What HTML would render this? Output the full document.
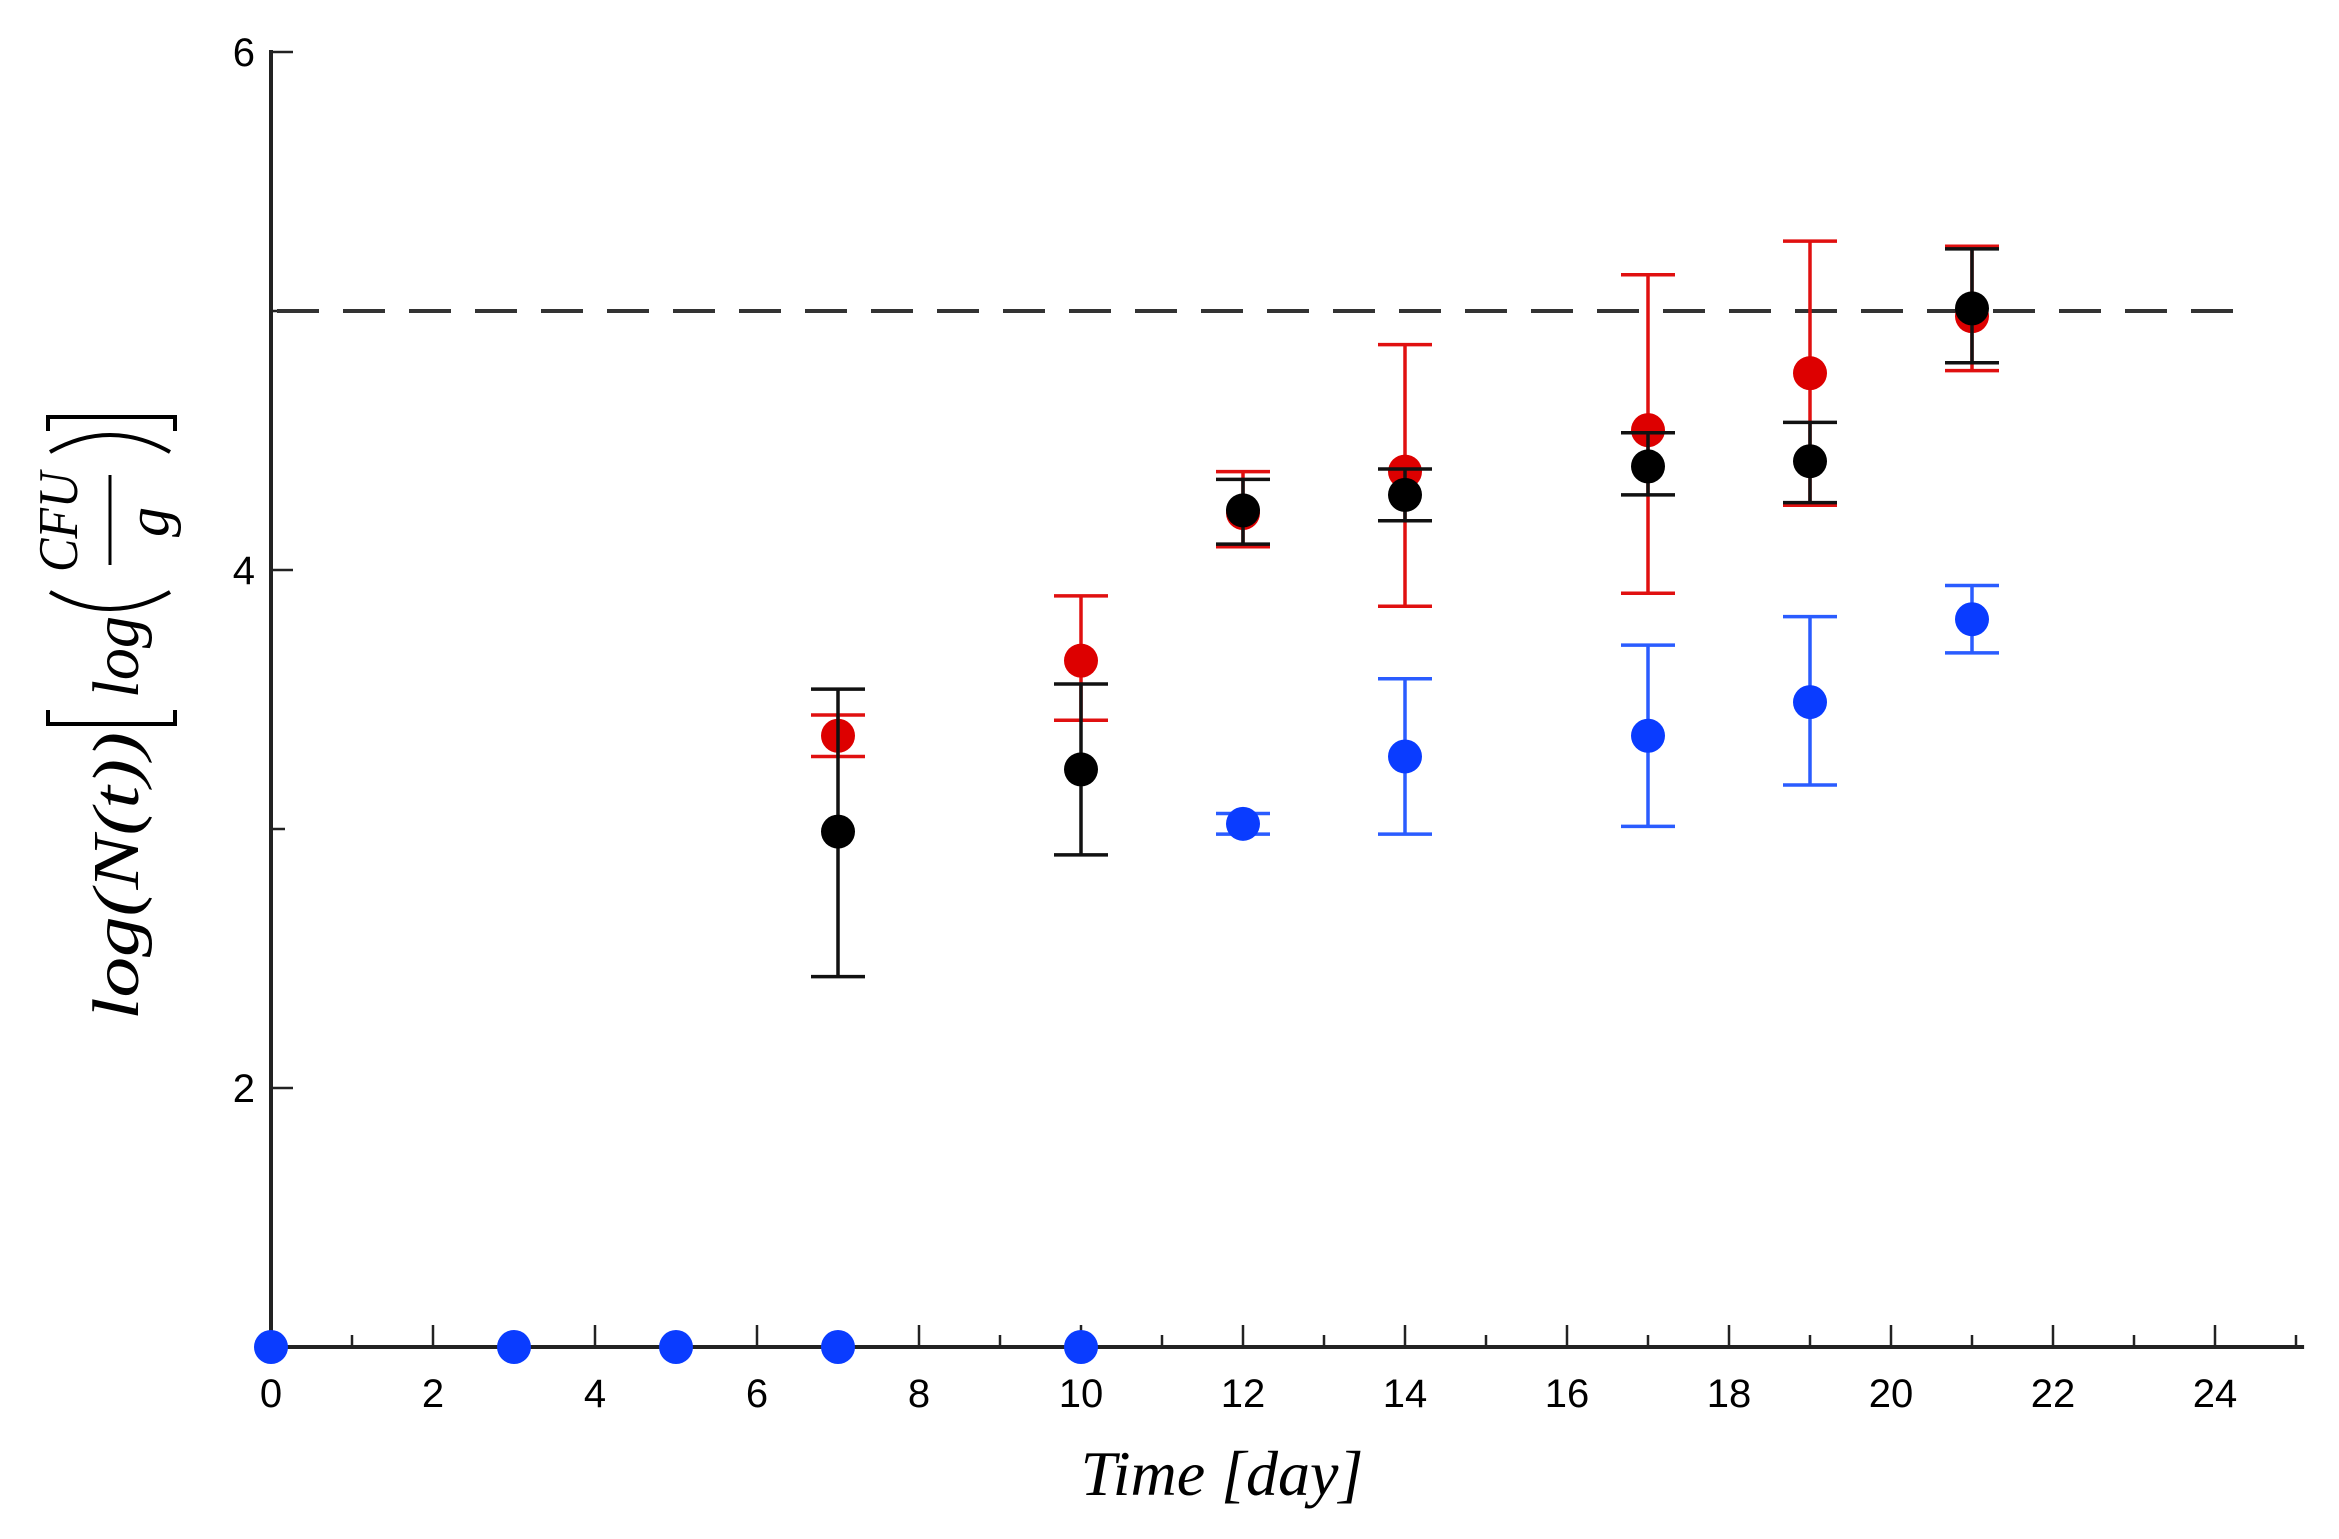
<!DOCTYPE html>
<html><head><meta charset="utf-8"><style>
html,body{margin:0;padding:0;background:#fff;}
svg{display:block;}
</style></head><body>
<svg id="chart" width="2339" height="1539" viewBox="0 0 2339 1539" xmlns="http://www.w3.org/2000/svg">
<g id="axes"></g>
<g id="marks"></g>
<text x="1222" y="1495" font-family="Liberation Serif, serif" font-style="italic" font-size="64" text-anchor="middle">Time [day]</text>
<g transform="translate(130,1020) rotate(-90)" font-family="Liberation Serif, serif" font-style="italic" fill="#000">
<text x="0" y="8" font-size="66" textLength="288" lengthAdjust="spacingAndGlyphs">log(N(t))</text>
<path d="M310,-82 L296,-82 L296,45 L310,45" fill="none" stroke="#000" stroke-width="4"/>
<text x="322" y="8" font-size="66" textLength="82" lengthAdjust="spacingAndGlyphs">log</text>
<path d="M428,-80 Q394,-20 428,40" fill="none" stroke="#000" stroke-width="4"/>
<text x="498" y="-53" font-size="56" text-anchor="middle" textLength="100" lengthAdjust="spacingAndGlyphs">CFU</text>
<line x1="455" y1="-20" x2="545" y2="-20" stroke="#000" stroke-width="3"/>
<text x="498" y="38" font-size="60" text-anchor="middle">g</text>
<path d="M568,-80 Q602,-20 568,40" fill="none" stroke="#000" stroke-width="4"/>
<path d="M589,-82 L603,-82 L603,45 L589,45" fill="none" stroke="#000" stroke-width="4"/>
</g>
</svg>
<script>
const days = [0,3,5,7,10,12,14,17,19,21];
const blueVals = [1,1,1,1,1,3.02,3.28,3.36,3.49,3.81];
const blueHi = [null,null,null,null,null,3.06,3.58,3.71,3.82,3.94];
const blueLo = [null,null,null,null,null,2.98,2.98,3.01,3.17,3.68];
const redDays = [7,10,12,14,17,19,21];
const redVals = [3.36,3.65,4.22,4.38,4.54,4.76,4.98];
const redHi = [3.44,3.9,4.38,4.87,5.14,5.27,5.25];
const redLo = [3.28,3.42,4.09,3.86,3.91,4.25,4.77];
const blackDays = [7,10,12,14,17,19,21];
const blackVals = [2.99,3.23,4.23,4.29,4.40,4.42,5.01];
const blackHi = [3.54,3.56,4.35,4.39,4.53,4.57,5.24];
const blackLo = [2.43,2.90,4.10,4.19,4.29,4.26,4.80];
const xTicks = [0,2,4,6,8,10,12,14,16,18,20,22,24];
const yTicks = [2,4,6];
const thresholdValue = 5;

const NS='http://www.w3.org/2000/svg';
const X = d => 271 + d*81.0;
const Y = v => 1606 - v*259;
function mk(tag, attrs, parent){const e=document.createElementNS(NS,tag);for(const k in attrs)e.setAttribute(k,attrs[k]);parent.appendChild(e);return e;}
const axes=document.getElementById('axes');
const marks=document.getElementById('marks');

let yl=mk('line',{x1:X(0),y1:Y(6)-2,x2:X(0),y2:Y(1),stroke:'#222','stroke-width':4},axes);


let xl=mk('line',{x1:X(0),y1:Y(1),x2:X(25.1),y2:Y(1),stroke:'#222','stroke-width':4},axes);


for(let d=1; d<=25; d++){
  const major = d%2===0;
  const t=mk('line',{x1:X(d),y1:Y(1),x2:X(d),y2:Y(1)-(major?22:12),stroke:'#222','stroke-width':2.5},axes);
  
  
}
xTicks.forEach(d=>{
  const t=mk('text',{x:X(d),y:Y(1)+60,'font-family':'Liberation Sans, sans-serif','font-size':40,'text-anchor':'middle'},axes);
  t.textContent=d;
  
  
});
[2,3,4,5,6].forEach(v=>{
  const major = yTicks.includes(v);
  const t=mk('line',{x1:X(0),y1:Y(v),x2:X(0)+(major?22:14),y2:Y(v),stroke:'#222','stroke-width':2.5},axes);
  
  
});
yTicks.forEach(v=>{
  const t=mk('text',{x:X(0)-16,y:Y(v)+14,'font-family':'Liberation Sans, sans-serif','font-size':40,'text-anchor':'end'},axes);
  t.textContent=v;
  
  
});
let th=mk('line',{x1:X(0)+6,y1:Y(thresholdValue),x2:2235,y2:Y(thresholdValue),stroke:'#333','stroke-width':4,'stroke-dasharray':'42 24'},marks);



function errbar(d,hi,lo,color,name){
  if(hi==null) return;
  const g=mk('g',{stroke:color,'stroke-width':3.5},marks);
  
  
  mk('line',{x1:X(d),y1:Y(hi),x2:X(d),y2:Y(lo)},g);
  mk('line',{x1:X(d)-27,y1:Y(hi),x2:X(d)+27,y2:Y(hi)},g);
  mk('line',{x1:X(d)-27,y1:Y(lo),x2:X(d)+27,y2:Y(lo)},g);
}
function dot(d,v,color,name){
  const c=mk('circle',{cx:X(d),cy:Y(v),r:17,fill:color},marks);
  
  
}
days.forEach((d,i)=>errbar(d,blueHi[i],blueLo[i],'#2a5cff','blue-error-bar'));
redDays.forEach((d,i)=>errbar(d,redHi[i],redLo[i],'#e01010','red-error-bar'));
days.forEach((d,i)=>dot(d,blueVals[i],'#0a3cff','blue-point'));
redDays.forEach((d,i)=>dot(d,redVals[i],'#dd0000','red-point'));
blackDays.forEach((d,i)=>errbar(d,blackHi[i],blackLo[i],'#111','black-error-bar'));
blackDays.forEach((d,i)=>dot(d,blackVals[i],'#000','black-point'));
</script>
</body></html>
